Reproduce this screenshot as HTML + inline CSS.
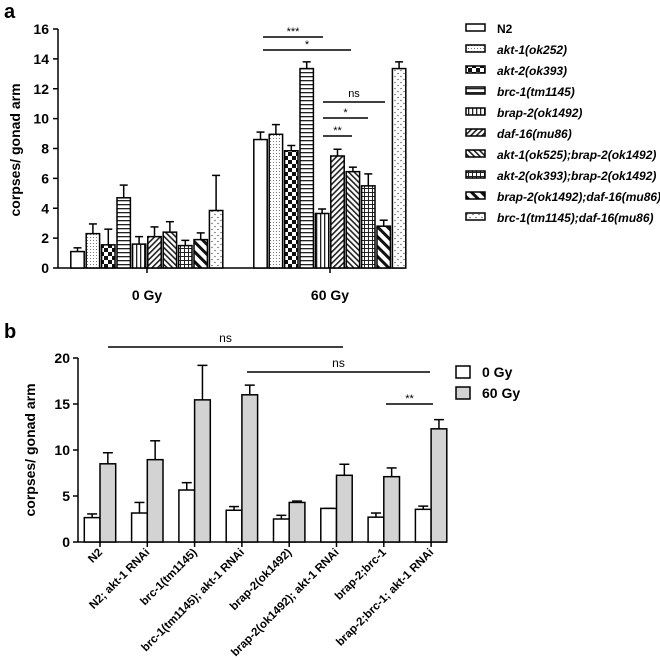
<!DOCTYPE html>
<html><head><meta charset="utf-8"><style>
body{margin:0;background:#fff}
svg{display:block;font-family:"Liberation Sans",Arial,sans-serif}
</style></head><body>
<svg id="c" width="660" height="660" viewBox="0 0 660 660" xmlns="http://www.w3.org/2000/svg">
<defs>
<pattern id="p0" width="4" height="4" patternUnits="userSpaceOnUse"><rect width="4" height="4" fill="#fff"/></pattern>
<pattern id="p1" width="3" height="3" patternUnits="userSpaceOnUse"><rect width="3" height="3" fill="#fff"/><rect width="1" height="1" fill="#777"/></pattern>
<pattern id="p2" width="8" height="8" patternUnits="userSpaceOnUse"><rect width="8" height="8" fill="#fff"/><rect width="4" height="4" fill="#111"/><rect x="4" y="4" width="4" height="4" fill="#111"/></pattern>
<pattern id="p3" width="4" height="4" patternUnits="userSpaceOnUse"><rect width="4" height="4" fill="#fff"/><rect y="0" width="4" height="1.3" fill="#222"/></pattern>
<pattern id="p4" width="4" height="4" patternUnits="userSpaceOnUse"><rect width="4" height="4" fill="#fff"/><rect x="0" width="1.3" height="4" fill="#222"/></pattern>
<pattern id="p5" width="4" height="4" patternUnits="userSpaceOnUse" patternTransform="rotate(45)"><rect width="4" height="4" fill="#fff"/><rect width="1.6" height="4" fill="#222"/></pattern>
<pattern id="p6" width="4" height="4" patternUnits="userSpaceOnUse" patternTransform="rotate(-45)"><rect width="4" height="4" fill="#fff"/><rect width="1.6" height="4" fill="#222"/></pattern>
<pattern id="p7" width="4" height="4" patternUnits="userSpaceOnUse"><rect width="4" height="4" fill="#fff"/><rect width="4" height="1" fill="#222"/><rect width="1" height="4" fill="#222"/></pattern>
<pattern id="p8" width="7" height="7" patternUnits="userSpaceOnUse" patternTransform="rotate(-45)"><rect width="7" height="7" fill="#fff"/><rect width="3" height="7" fill="#111"/></pattern>
<pattern id="p9" width="6" height="6" patternUnits="userSpaceOnUse"><rect width="6" height="6" fill="#fff"/><path d="M1 1l1 1l1-1M4 4l1 1l1-1" stroke="#666" stroke-width="0.6" fill="none"/></pattern>
</defs>
<text x="4" y="18" font-size="20" font-weight="bold">a</text>
<text x="4" y="338" font-size="20" font-weight="bold">b</text>
<g id="ga"></g><g id="gb"></g>
</svg>
<script>
const NS="http://www.w3.org/2000/svg";
function mk(p,t,a,txt){const e=document.createElementNS(NS,t);for(const k in a)e.setAttribute(k,a[k]);if(txt!==undefined)e.textContent=txt;p.appendChild(e);return e;}
// ===== Panel a data =====
const aStrains=["N2","akt-1(ok252)","akt-2(ok393)","brc-1(tm1145)","brap-2(ok1492)","daf-16(mu86)","akt-1(ok525);brap-2(ok1492)","akt-2(ok393);brap-2(ok1492)","brap-2(ok1492);daf-16(mu86)","brc-1(tm1145);daf-16(mu86)"];
const aGroups=["0 Gy","60 Gy"];
const a0=[1.1,2.3,1.55,4.7,1.6,2.1,2.4,1.5,1.9,3.85];
const a0err=[1.35,2.95,2.6,5.55,2.1,2.75,3.1,1.85,2.35,6.2];
const a60=[8.6,8.95,7.85,13.35,3.65,7.5,6.45,5.5,2.8,13.35];
const a60err=[9.1,9.6,8.2,13.8,3.95,7.95,6.75,6.3,3.2,13.8];
const aTicks=[0,2,4,6,8,10,12,14,16];
// ===== Panel b data =====
const bCats=["N2","N2; akt-1 RNAi","brc-1(tm1145)","brc-1(tm1145); akt-1 RNAi","brap-2(ok1492)","brap-2(ok1492); akt-1 RNAi","brap-2;brc-1","brap-2;brc-1; akt-1 RNAi"];
const b0=[2.65,3.15,5.65,3.45,2.5,3.65,2.7,3.55];
const b0err=[3.05,4.3,6.45,3.85,2.9,3.65,3.15,3.9];
const b60=[8.5,8.95,15.45,16,4.3,7.25,7.1,12.3];
const b60err=[9.7,11,19.2,17.05,4.45,8.45,8.05,13.3];
const bTicks=[0,5,10,15,20];

// Panel a
const ga=document.getElementById('ga');
const aY=v=>268-v*(239/16);
const aBW=15.4, aStart=[70,253];
mk(ga,'line',{x1:58,y1:aY(0),x2:405,y2:aY(0),stroke:'#000','stroke-width':1.5});
mk(ga,'line',{x1:58,y1:aY(0),x2:58,y2:aY(16),stroke:'#000','stroke-width':1.5});
aTicks.forEach(t=>{mk(ga,'line',{x1:53,y1:aY(t),x2:58,y2:aY(t),stroke:'#000','stroke-width':1.5});
 const e=mk(ga,'text',{x:49,y:aY(t)+5,'text-anchor':'end','font-size':14,'font-weight':'bold'},t);
 
 });
const ya=mk(ga,'text',{x:0,y:0,transform:'translate(20,150) rotate(-90)','text-anchor':'middle','font-size':14,'font-weight':'bold'},'corpses/ gonad  arm');


[a0,a60].forEach((vals,g)=>{const errs=g?a60err:a0err;
 const cx=aStart[g]+aBW*vals.length/2;
 mk(ga,'line',{x1:cx,y1:aY(0),x2:cx,y2:aY(0)+5,stroke:'#000','stroke-width':1.5});
 const gl=mk(ga,'text',{x:cx,y:300,'text-anchor':'middle','font-size':14,'font-weight':'bold'},aGroups[g]);
 
 
 vals.forEach((v,i)=>{const x=aStart[g]+i*aBW+0.8;
  mk(ga,'line',{x1:x+(aBW-2)/2,y1:aY(v),x2:x+(aBW-2)/2,y2:aY(errs[i]),stroke:'#000','stroke-width':1.5});
  mk(ga,'line',{x1:x+(aBW-2)/2-4,y1:aY(errs[i]),x2:x+(aBW-2)/2+4,y2:aY(errs[i]),stroke:'#000','stroke-width':1.5});
  const r=mk(ga,'rect',{x:x,y:aY(v),width:aBW-2,height:aY(0)-aY(v),fill:'url(#p'+i+')',stroke:'#000','stroke-width':1.5});
  
  });});
function sig(p,x1,x2,y,lab,fs){mk(p,'line',{x1:x1,y1:y,x2:x2,y2:y,stroke:'#000','stroke-width':1.5});
 const t=mk(p,'text',{x:(x1+x2)/2,y:lab==='ns'?y-5:y-2,'text-anchor':'middle','font-size':fs||11},lab);
 
 }
sig(ga,263,323,37,'***');sig(ga,263,351,50,'*');sig(ga,323,385,102,'ns');sig(ga,323,368,118,'*');sig(ga,323,352,136,'**');
aStrains.forEach((s,i)=>{const y=28+i*21;
 const r=mk(ga,'rect',{x:466,y:y-4,width:19,height:7,fill:'url(#p'+i+')',stroke:'#000','stroke-width':1.5});
 
 
 const t=mk(ga,'text',{x:497,y:y+5,'font-size':12,'font-weight':'bold','font-style':i?'italic':'normal'},s);
 
 });

// Panel b
const gb=document.getElementById('gb');
const bY=v=>542-v*(184/20);
const bBW=15.7, bStep=47.3, bX0=84.3;
mk(gb,'line',{x1:78,y1:bY(0),x2:447,y2:bY(0),stroke:'#000','stroke-width':1.5});
mk(gb,'line',{x1:78,y1:bY(0),x2:78,y2:bY(20),stroke:'#000','stroke-width':1.5});
bTicks.forEach(t=>{mk(gb,'line',{x1:73,y1:bY(t),x2:78,y2:bY(t),stroke:'#000','stroke-width':1.5});
 const e=mk(gb,'text',{x:70,y:bY(t)+5,'text-anchor':'end','font-size':14,'font-weight':'bold'},t);
 
 });
const yb=mk(gb,'text',{x:0,y:0,transform:'translate(35,450) rotate(-90)','text-anchor':'middle','font-size':14,'font-weight':'bold'},'corpses/ gonad  arm');


bCats.forEach((c,i)=>{const x0=bX0+i*bStep, cx=x0+bBW;
 mk(gb,'line',{x1:cx,y1:bY(0),x2:cx,y2:bY(0)+5,stroke:'#000','stroke-width':1.5});
 const t=mk(gb,'text',{x:0,y:0,transform:'translate('+(cx+3)+',553) rotate(-45)','text-anchor':'end','font-size':11.5,'font-weight':'bold'},c);
 
 
 [[b0,b0err,'#fff','0gy'],[b60,b60err,'#d3d3d3','60gy']].forEach((s,k)=>{const v=s[0][i],e=s[1][i],x=x0+k*bBW,mx=x+bBW/2;
  mk(gb,'line',{x1:mx,y1:bY(v),x2:mx,y2:bY(e),stroke:'#000','stroke-width':1.5});
  mk(gb,'line',{x1:mx-5,y1:bY(e),x2:mx+5,y2:bY(e),stroke:'#000','stroke-width':1.5});
  const r=mk(gb,'rect',{x:x,y:bY(v),width:bBW,height:bY(0)-bY(v),fill:s[2],stroke:'#000','stroke-width':1.5});
  
  });});
sig(gb,108,343,347,'ns',12);sig(gb,247,430,372,'ns',12);sig(gb,386,433,404,'**');
[['0 Gy','#fff'],['60 Gy','#d3d3d3']].forEach((l,i)=>{const y=372+i*21;
 const r=mk(gb,'rect',{x:456,y:y-6,width:14,height:12,fill:l[1],stroke:'#000','stroke-width':1.5});
 
 
 const t=mk(gb,'text',{x:482,y:y+5,'font-size':14,'font-weight':'bold'},l[0]);
 
 });
</script>
</body></html>
